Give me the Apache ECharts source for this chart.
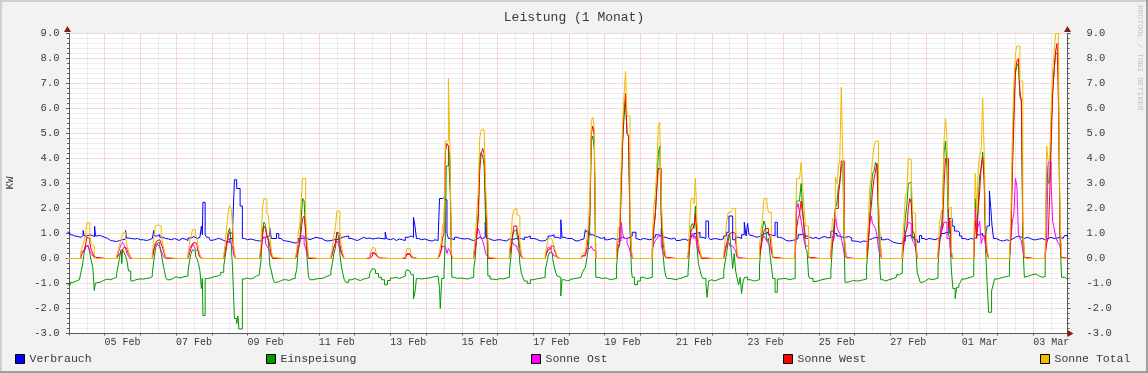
<!DOCTYPE html>
<html><head><meta charset="utf-8">
<script src="https://cdn.jsdelivr.net/npm/echarts@6.0.0/dist/echarts.min.js"></script>
<style>html,body{margin:0;padding:0;background:#F2F2F2;}#c{width:1148px;height:373px;}</style>
</head><body><div id="c"></div>
<script>
// ---------------- DATA ----------------
// x unit: hours since 04 Feb 00:00 (graph starts at -1 = 03 Feb 23:00, ends at 671 = 03 Mar 23:00)
const tickLabels = ['05 Feb','07 Feb','09 Feb','11 Feb','13 Feb','15 Feb','17 Feb','19 Feb','21 Feb','23 Feb','25 Feb','27 Feb','01 Mar','03 Mar'];
const yTicks = [-3,-2,-1,0,1,2,3,4,5,6,7,8,9];
const seriesNames = ['Verbrauch','Einspeisung','Sonne Ost','Sonne West','Sonne Total'];

// Verbrauch: per day, change points [hour of day, kW]
const verbrauch = [
 [[-1,1.05],[0.5,0.95],[2,0.9],[4,0.88],[6,0.85],[8,0.92],[9.5,1.12],[10.2,0.9],[12,0.95],[14,0.88],[17.2,1.3],[17.8,0.9],[19,0.92],[21,0.85]],
 [[0,0.8],[2,0.72],[4,0.7],[6,0.68],[8,0.72],[10,0.75],[12,0.78],[14,1.12],[14.6,0.82],[16,0.8],[18,0.78],[20,0.8],[22,0.75]],
 [[0,0.75],[2,0.72],[4,0.75],[6,0.8],[8,0.85],[9,1.12],[9.5,0.9],[11,0.95],[13,0.85],[15,0.8],[17,0.78],[19,0.75],[21,0.8],[23,0.72]],
 [[0,0.72],[2,0.8],[4,0.78],[6,0.72],[8,0.82],[10,0.88],[12,0.8],[14,0.85],[16,0.9],[17,1.3],[17.6,0.95],[18,2.25],[19.5,0.95],[20.5,0.85],[22,0.8],[23,0.72]],
 [[0,0.75],[2,0.8],[4,0.78],[6,0.72],[8,0.68],[10,0.65],[12,0.8],[14,1.3],[15.2,3.15],[16.7,2.8],[19,2.1],[20.5,0.8],[22,0.75]],
 [[0,0.78],[2,0.75],[4,0.72],[6,0.7],[8,0.72],[10,0.85],[12,0.9],[14.8,1.25],[16,0.8],[19.5,1.0],[21,0.8],[22.5,0.72]],
 [[0,0.7],[2,0.68],[4,0.65],[6,0.62],[8,0.65],[10,0.8],[12,0.82],[14,0.8],[16,0.75],[18,0.8],[20,0.85],[22,0.82]],
 [[0,0.8],[2,0.72],[4,0.7],[6,0.72],[8,0.75],[10,0.75],[12,0.8],[14,0.85],[16,0.88],[18,0.9],[20,0.8],[22,0.75]],
 [[0,0.72],[2,0.78],[4,0.85],[6,0.8],[8,0.82],[10,0.78],[12,0.8],[14,0.82],[16,0.78],[20.5,1.05],[21.3,0.8],[22,0.75]],
 [[0,0.8],[2,0.72],[4,0.78],[6,0.75],[8,0.72],[10,0.85],[12,0.9],[14,0.85],[15.5,1.65],[16.5,1.3],[17.5,0.8],[19,0.75],[21,0.78],[23,0.72]],
 [[0,0.72],[2,0.7],[4,0.75],[6,0.72],[8,0.75],[9,2.4],[11,2.45],[12.5,2.35],[14,1.0],[15,0.8],[17,0.75],[19,0.85],[21,0.8],[23,0.75]],
 [[0,0.78],[2,0.8],[4,0.75],[6,0.72],[8,0.78],[10,0.85],[12,0.8],[14,0.85],[15.7,1.45],[16.6,0.8],[18,0.75],[20,0.72],[22,0.75]],
 [[0,0.75],[2,0.72],[4,0.7],[6,0.78],[8,0.75],[10,0.8],[12,0.78],[14,0.8],[16,0.75],[18,0.85],[20,0.9],[22,0.8]],
 [[0,0.78],[2,0.72],[4,0.7],[6,0.72],[8,0.8],[10,0.9],[12,0.95],[14,0.85],[16,0.8],[18.5,1.55],[19.3,0.85],[21,0.8],[23,0.75]],
 [[0,0.8],[2,0.72],[4,0.7],[6,0.75],[8,0.78],[10,0.85],[11,1.15],[12,1.05],[14,0.95],[16,0.9],[18,0.85],[20,0.8],[22,0.85]],
 [[0,0.75],[2,0.78],[4,0.8],[6,0.75],[8,0.8],[10,0.85],[12,0.8],[14,0.82],[16,0.9],[18.5,1.05],[21,0.8],[22,0.75]],
 [[0,0.8],[2,0.78],[4,0.75],[6,0.78],[8,0.85],[10,0.95],[12,0.9],[14,1.2],[15,0.85],[17,0.8],[19,0.78],[21,0.82],[23,0.75]],
 [[0,0.72],[2,0.75],[4,0.78],[6,0.72],[8,0.8],[10,0.9],[12,1.0],[14,1.05],[16,0.85],[18,0.8],[20,1.5],[21.8,0.85],[23,0.75]],
 [[0,0.8],[2,0.78],[4,0.75],[6,0.8],[8,0.9],[10,1.05],[11.5,1.7],[14,0.75],[16,0.85],[18,0.8],[20,0.95],[21.8,1.45],[23,0.9]],
 [[0,1.4],[1,0.95],[2,0.9],[4,0.85],[6,0.88],[8,0.95],[10,1.0],[12,1.05],[14,0.95],[16,0.9],[18.5,1.45],[20,0.85],[22,0.8]],
 [[0,0.72],[2,0.7],[4,0.72],[6,0.75],[8,0.8],[10,0.95],[12,1.0],[14,0.9],[16,0.85],[18,0.8],[20,0.85],[22,0.78]],
 [[0,0.85],[2,0.88],[4,0.82],[6,0.85],[8,1.1],[10,1.0],[12,0.9],[14,0.85],[16,0.85],[18,0.88],[20,0.82],[22,0.7]],
 [[0,0.68],[2,0.65],[4,0.7],[6,0.68],[8,0.75],[10,0.8],[12,0.85],[14,0.82],[16,0.85],[18,0.75],[20,0.78],[22,0.72]],
 [[0,0.65],[2,0.62],[4,0.6],[6,0.6],[8,0.7],[10,0.9],[12,0.95],[14,0.85],[16,0.75],[18,0.65],[19.5,0.92],[21,0.8],[22.5,0.75]],
 [[0,0.8],[2,0.78],[4,0.75],[6,0.8],[8,0.85],[10,1.0],[12,1.05],[14,1.0],[15.5,1.6],[17.5,1.3],[19,1.1],[21,1.05],[22.5,0.9]],
 [[0,0.8],[2,0.75],[4,0.8],[6,0.78],[8,0.85],[10,0.95],[12,1.0],[14,0.9],[16,0.85],[17,1.3],[18.5,2.7],[19.4,2.05],[20.3,1.3],[21.3,0.8],[23,0.75]],
 [[0,0.72],[2,0.7],[4,0.75],[6,0.72],[8,0.78],[10,0.85],[12,0.9],[14,0.85],[16,0.8],[18,0.85],[20,0.8],[22,0.75]],
 [[0,0.75],[2,0.78],[4,0.8],[6,0.75],[8,0.8],[10,0.85],[12,0.8],[14,0.82],[16,0.85],[18,0.8],[20,0.78],[21,0.92],[23,0.85]]
];

// Einspeisung: per day, change points [hour of day, kW]
const einspeisung = [
 [[-1,-1.05],[1,-0.95],[3,-0.9],[5,-0.85],[7,-0.8],[8,-0.55],[9,-0.3],[10,0.15],[11,0.5],[12,0.52],[13,0.45],[14,0.2],[15,-0.1],[16,-0.35],[17,-1.28],[17.8,-0.98],[19,-0.95],[21,-0.88],[23,-0.8]],
 [[0,-0.82],[2,-0.85],[4,-0.8],[6,-0.75],[8,-0.6],[9,-0.3],[10,0.05],[11,0.35],[11.5,-0.2],[12,0.35],[13,0.25],[14,0.1],[15,-0.1],[16,-0.5],[17.5,-0.9],[19,-0.85],[21,-0.82],[23,-0.8]],
 [[0,-0.82],[2,-0.8],[4,-0.78],[6,-0.72],[8,-0.6],[9,-0.1],[10,0.35],[11,0.6],[12,0.65],[13,0.5],[14,0.2],[15,-0.15],[16,-0.45],[17,-0.75],[18,-0.85],[20,-0.8],[22,-0.72]],
 [[0,-0.78],[2,-0.75],[4,-0.72],[6,-0.7],[8,-0.5],[9,-0.1],[10,0.2],[11,0.35],[12,0.3],[13,0.1],[14,0.0],[15,-0.2],[16,-0.5],[17,-1.2],[17.6,-0.8],[18,-2.28],[19.5,-0.8],[21,-0.78],[23,-0.7]],
 [[0,-0.72],[2,-0.7],[4,-0.65],[6,-0.55],[8,-0.3],[9,0.1],[10,0.5],[11,1.05],[12,1.2],[13,0.6],[14,-0.5],[15.2,-2.4],[16.7,-2.6],[17.5,-2.3],[18.2,-2.82],[20.5,-0.82],[22,-0.78]],
 [[0,-0.82],[2,-0.78],[4,-0.7],[6,-0.65],[8,-0.55],[9,-0.1],[10,1.1],[11,1.45],[12,1.35],[13,0.9],[14,0.7],[15,-0.3],[16,-0.5],[17,-0.8],[18,-0.95],[20,-0.9],[22,-0.85]],
 [[0,-0.85],[2,-0.88],[4,-0.82],[6,-0.8],[8,-0.7],[9,-0.45],[10,0.3],[11,0.6],[12,1.55],[13,2.4],[14,2.3],[15,1.05],[16,0.0],[17,-0.75],[18,-0.85],[20,-0.82],[22,-0.8]],
 [[0,-0.8],[2,-0.75],[4,-0.7],[6,-0.65],[8,-0.5],[9,-0.2],[10,0.2],[11,0.4],[12,1.05],[13,0.9],[14,0.2],[15,-0.3],[16,-0.6],[17,-0.85],[18,-0.95],[20,-0.85],[22,-0.8]],
 [[0,-0.85],[2,-0.88],[4,-0.82],[6,-0.8],[8,-0.75],[10,-0.6],[11,-0.5],[12,-0.4],[13,-0.45],[14,-0.6],[16,-0.75],[18,-0.85],[20,-1.05],[22,-0.88]],
 [[0,-0.78],[2,-0.75],[4,-0.8],[6,-0.75],[8,-0.7],[10,-0.55],[11,-0.45],[12,-0.5],[13,-0.55],[14,-0.65],[15.5,-1.62],[16.5,-1.35],[17.5,-0.8],[19,-0.82],[21,-0.8],[23,-0.78]],
 [[0,-0.78],[2,-0.75],[4,-0.72],[6,-0.7],[8,-0.75],[9,-1.2],[9.5,-2.0],[10.5,-0.8],[12,-0.6],[13,1.0],[13.5,3.7],[15,4.4],[16.2,2.6],[17.3,-0.75],[19,-0.8],[21,-0.78],[23,-0.75]],
 [[0,-0.8],[2,-0.82],[4,-0.78],[6,-0.75],[8,-0.4],[9,0.0],[10,1.0],[11,1.8],[12,4.0],[13,4.25],[14,4.1],[15,3.7],[16,1.4],[17,0.8],[17.5,-0.7],[19,-0.82],[21,-0.85],[23,-0.8]],
 [[0,-0.8],[2,-0.82],[4,-0.78],[6,-0.75],[8,-0.5],[9,0.1],[10,0.85],[11,1.1],[12,1.15],[13,0.95],[14,0.7],[15,-0.2],[16,-0.6],[17,-0.75],[18,-0.9],[20,-1.0],[22,-0.85]],
 [[0,-0.82],[2,-0.8],[4,-0.78],[6,-0.75],[8,-0.5],[9,-0.2],[10,0.1],[11,0.25],[12,0.2],[13,0.0],[14,-0.3],[15,-0.55],[16,-0.7],[17,-0.75],[18.5,-1.5],[19.3,-0.85],[21,-0.9],[23,-0.82]],
 [[0,-0.82],[2,-0.8],[4,-0.78],[6,-0.75],[8,-0.7],[9,-0.55],[10,-0.45],[11,-0.35],[12,0.0],[13,0.4],[14,1.3],[15,4.7],[16,4.9],[17,4.4],[18,-0.75],[20,-0.8],[22,-0.78]],
 [[0,-0.8],[2,-0.85],[4,-0.82],[6,-0.8],[8,-0.3],[9,0.4],[10,0.5],[11,2.65],[12,4.5],[13,5.7],[14,6.3],[15,5.0],[16,4.9],[17,1.1],[18,-0.5],[18.5,-0.75],[20,-1.05],[22,-0.9]],
 [[0,-0.75],[2,-0.8],[4,-0.78],[6,-0.75],[8,0.0],[9,1.2],[10,1.85],[11,2.8],[12,4.2],[13,4.5],[14,1.5],[15,0.3],[16,-0.35],[17,-0.7],[18,-0.8],[20,-0.82],[22,-0.85]],
 [[0,-0.8],[2,-0.78],[4,-0.72],[6,-0.7],[8,-0.55],[9,0.35],[10,1.3],[11,1.4],[12,1.2],[13,2.1],[14,0.5],[15,-0.2],[16,-0.45],[17,-0.7],[18,-0.8],[20,-1.0],[20.8,-1.55],[21.8,-0.9],[23,-0.85]],
 [[0,-0.9],[2,-0.85],[4,-0.8],[6,-0.78],[8,-0.5],[9,-0.1],[10,0.25],[11,0.7],[12,1.0],[13,0.3],[14,-0.4],[15,0.2],[16,-0.5],[17,-0.8],[18,-1.05],[19,-0.75],[20,-1.4],[21,-0.9],[22,-0.75]],
 [[0,-0.85],[2,-0.9],[4,-0.88],[6,-0.85],[8,-0.3],[9,0.5],[10,1.2],[11,1.5],[12,1.3],[13,0.7],[14,0.8],[15,0.2],[16,-0.3],[17,-0.8],[18.5,-1.35],[20,-0.82],[22,-0.8]],
 [[0,-0.8],[2,-0.85],[4,-0.82],[6,-0.8],[8,0.0],[9,2.3],[10,2.3],[11,2.4],[12,3.0],[13,2.0],[14,1.1],[15,0.4],[16,0.3],[17,-0.7],[18,-0.8],[20,-0.92],[22,-0.88]],
 [[0,-0.85],[2,-0.82],[4,-0.8],[6,-0.78],[8,-0.5],[9,0.5],[10,1.3],[11,2.0],[12,2.2],[13,2.8],[14,3.1],[15,3.6],[16,3.85],[17,0.3],[17.5,-0.95],[19,-0.92],[21,-0.88],[23,-0.8]],
 [[0,-0.9],[2,-0.88],[4,-0.85],[6,-0.82],[8,-0.3],[9,0.4],[10,1.5],[11,2.7],[12,3.4],[13,3.5],[14,3.85],[15,3.7],[16,1.3],[17,-0.5],[17.5,-0.85],[19,-0.9],[21,-0.85],[23,-0.82]],
 [[0,-0.8],[2,-0.75],[4,-0.65],[6,-0.58],[8,-0.2],[9,0.7],[10,1.6],[11,2.1],[12,3.0],[13,3.05],[14,2.6],[15,0.8],[16,0.9],[17,0.5],[18,-0.55],[19,-0.75],[20,-0.95],[22,-0.88]],
 [[0,-0.8],[2,-0.85],[4,-0.82],[6,-0.78],[8,-0.3],[9,0.6],[10,1.0],[11,1.9],[12,4.25],[13,4.7],[14,3.6],[15,1.0],[16,0.7],[17,-0.5],[18,-1.2],[19.5,-1.6],[20.5,-1.15],[22,-1.05],[23,-0.95]],
 [[0,-0.82],[2,-0.78],[4,-0.75],[6,-0.7],[8,-0.2],[9,2.4],[10,0.9],[11,2.2],[12,3.3],[13,3.6],[14,4.25],[15,3.05],[16,0.3],[17,-1.0],[18,-2.15],[20,-1.3],[21,-1.05],[22,-0.82]],
 [[0,-0.78],[2,-0.75],[4,-0.72],[6,-0.7],[8,-0.3],[9,1.0],[10,4.2],[11,6.2],[12,7.4],[13,7.7],[14,7.8],[15,6.5],[16,6.3],[17,0.6],[18,-0.75],[19,-0.7],[21,-0.65],[23,-0.6]],
 [[0,-0.62],[2,-0.7],[4,-0.75],[6,-0.72],[8,-0.3],[9,3.7],[10,3.0],[11,3.1],[12,5.2],[13,6.7],[14,7.5],[15,8.2],[16,8.2],[17,6.4],[18,0.8],[19,-0.75],[21,-0.8],[22.5,-0.85]]
];

// Solar series: per day, hourly kW values starting at 08:00 (0 outside)
const solarStartHour = 8;
const sonneOst = [
 [0.2,0.3,0.35,0.45,0.5,0.45,0.3,0.2,0.1,0.05],
 [0.05,0.2,0.4,0.55,0.65,0.55,0.4,0.2,0.1,0],
 [0.1,0.4,0.55,0.55,0.5,0.45,0.3,0.15,0.05,0],
 [0.15,0.4,0.5,0.6,0.5,0.35,0.3,0.15,0.05,0],
 [0.05,0.3,0.6,0.8,0.7,0.6,0.4,0.1,0,0],
 [0,0.3,0.8,0.85,0.6,0.5,0.4,0.3,0.1,0],
 [0.05,0.2,0.6,0.7,0.9,0.9,0.6,0.4,0.2,0],
 [0.05,0.2,0.45,0.6,0.7,0.6,0.4,0.2,0.1,0],
 [0,0.03,0.1,0.2,0.25,0.2,0.15,0.07,0.03,0],
 [0,0.05,0.1,0.2,0.2,0.15,0.08,0.03,0,0],
 [0.05,0.2,0.3,0.5,0.45,0.4,0.2,0.4,0.3,0.1],
 [0.15,0.4,0.9,1.2,1.0,0.8,0.7,0.5,0.2,0.1,0],
 [0.2,0.5,0.65,0.55,0.5,0.4,0.3,0.2,0.05,0],
 [0.08,0.3,0.45,0.4,0.3,0.2,0.1,0.1,0.05,0],
 [0.05,0.1,0.1,0.1,0.4,0.4,0.45,0.5,0.35,0.3],
 [0.4,0.7,0.7,1.45,1.0,0.8,0.8,0.6,0.5,0.3,0.1],
 [0.4,0.6,0.7,0.8,0.9,0.9,0.5,0.3,0.15,0.03],
 [0.1,0.6,0.9,1.0,0.8,0.9,0.5,0.3,0.15,0.05],
 [0.1,0.4,0.6,0.6,0.5,0.5,0.45,0.4,0.3,0.05],
 [0.2,0.5,0.8,0.9,0.8,0.7,0.6,0.5,0.3,0.05],
 [0.5,2.0,2.2,1.8,1.5,1.1,0.7,0.5,0.5,0.05],
 [0.2,0.9,0.8,1.8,1.25,1.1,1.0,0.8,0.5,0.2,0.05],
 [0.3,0.8,1.3,1.7,1.4,1.3,1.2,0.9,0.4,0.2],
 [0.3,0.8,1.0,1.2,1.45,1.4,0.9,0.7,0.6,0.4],
 [0.2,0.6,1.3,1.2,1.45,1.45,0.8,0.8,0.5,0.1],
 [0.2,2.0,1.1,1.3,1.5,0.6,0.8,0.9,0.5,0.2],
 [0.1,0.8,1.5,1.8,3.2,2.9,1.0,0.8,0.7,0.3,0.05],
 [0.2,0.9,3.85,3.85,3.0,1.5,1.2,0.9,0.7,0.6,0.5,0.05]
];
const sonneWest = [
 [0.1,0.2,0.3,0.5,0.85,0.8,0.6,0.35,0.2,0.05],
 [0.03,0.1,0.2,0.25,0.35,0.45,0.4,0.3,0.2,0.1],
 [0.05,0.3,0.6,0.7,0.75,0.75,0.6,0.4,0.2,0.02],
 [0.05,0.2,0.4,0.55,0.65,0.6,0.5,0.25,0.1,0],
 [0.05,0.3,0.6,0.9,1.05,1.0,0.7,0.2,0,0],
 [0,0.3,0.9,1.3,1.2,0.9,0.8,0.5,0.15,0],
 [0,0.1,0.4,0.6,1.1,1.6,1.7,1.1,0.4,0],
 [0.05,0.2,0.45,0.6,1.05,1.0,0.55,0.3,0.1,0],
 [0,0.02,0.05,0.1,0.2,0.2,0.15,0.08,0.02,0],
 [0,0,0.05,0.15,0.18,0.15,0.05,0.02,0,0],
 [0,0.1,0.3,0.8,1.0,4.3,4.6,4.5,4.0,0.1],
 [0.1,0.3,0.9,1.6,3.5,4.2,4.4,4.2,2.3,1.0,0],
 [0.1,0.4,0.9,1.3,1.3,1.1,0.9,0.4,0.1,0],
 [0.02,0.2,0.35,0.4,0.5,0.5,0.35,0.2,0.05,0],
 [0,0.1,0.15,0.2,0.4,0.9,1.85,5.0,5.3,4.9],
 [0.1,0.5,0.6,2.8,4.7,5.9,6.6,5.0,4.9,1.5,0.2],
 [0.3,1.2,1.7,2.8,3.6,3.6,1.8,0.8,0.3,0.05],
 [0.05,0.5,1.1,1.2,1.3,1.8,0.9,0.4,0.2,0],
 [0.05,0.3,0.6,0.9,1.0,1.05,1.1,1.0,0.7,0.1],
 [0.1,0.4,0.8,1.1,1.2,1.2,1.0,0.9,0.4,0.05],
 [0.2,1.2,1.6,1.8,2.3,1.8,1.3,0.8,0.8,0.05],
 [0.1,0.6,0.8,2.0,2.0,2.5,3.0,3.9,3.9,0.8,0.2],
 [0.1,0.5,1.5,2.0,2.7,3.2,3.5,3.8,2.0,0.7],
 [0.2,0.5,1.0,1.2,2.0,2.4,2.2,1.1,1.0,0.6],
 [0.1,0.8,1.0,1.2,2.9,4.0,4.0,1.2,1.5,0.2],
 [0.1,1.5,0.8,2.0,2.7,3.7,4.05,3.3,0.8,0.2],
 [0.1,1.0,3.5,5.5,7.5,7.9,8.0,6.7,6.3,1.2,0.05],
 [0.1,0.6,0.8,2.5,4.5,6.5,7.5,8.3,8.6,6.0,1.0,0.05]
];
const sonneTotal = [
 [0.3,0.5,0.65,0.9,1.43,1.43,0.95,0.55,0.5,0.15],
 [0.1,0.3,0.6,0.7,1.0,1.05,0.85,0.5,0.3,0.1],
 [0.2,0.8,1.3,1.35,1.35,1.3,1.0,0.6,0.3,0.05],
 [0.2,0.6,0.9,1.15,1.15,0.95,0.8,0.4,0.15,0],
 [0.1,0.65,1.3,1.85,2.12,2.0,1.2,0.3,0,0],
 [0,0.6,2.0,2.4,2.35,1.8,1.7,1.0,0.3,0.05],
 [0.05,0.3,1.0,1.3,2.3,3.2,3.2,1.85,0.7,0.05],
 [0.1,0.4,0.9,1.2,1.9,1.9,1.0,0.5,0.2,0],
 [0,0.05,0.15,0.3,0.45,0.4,0.3,0.15,0.05,0],
 [0,0.05,0.15,0.4,0.4,0.35,0.15,0.05,0,0],
 [0.05,0.3,0.6,1.3,1.45,4.7,4.7,7.2,4.3,0.2],
 [0.3,0.8,1.8,2.65,4.8,5.15,5.15,5.1,2.8,1.6,0.05],
 [0.3,0.9,1.7,1.95,2.0,1.75,1.7,0.65,0.15,0],
 [0.1,0.5,0.8,0.8,0.8,0.7,0.45,0.3,0.1,0],
 [0.05,0.2,0.25,0.3,0.8,1.3,2.3,5.5,5.65,5.2],
 [0.5,1.2,1.3,3.6,5.3,6.5,7.5,5.7,5.7,1.85,0.3],
 [0.8,2.05,2.6,3.6,5.3,5.45,2.4,1.1,0.5,0.1],
 [0.2,1.3,2.4,2.4,2.2,3.2,1.5,0.7,0.35,0.05],
 [0.2,0.8,1.5,1.85,1.85,1.9,2.0,2.0,1.3,0.2],
 [0.5,1.1,1.6,2.4,2.4,2.2,1.85,1.85,0.8,0.1],
 [0.8,3.2,3.2,3.2,3.85,2.9,2.0,1.3,1.3,0.1],
 [0.3,1.6,1.6,3.25,3.0,3.6,4.0,6.85,4.0,1.0,0.25],
 [0.4,1.3,2.8,3.25,4.0,4.5,4.7,4.7,2.3,0.9],
 [0.6,1.4,2.5,2.6,4.0,3.95,3.2,1.85,1.8,1.0],
 [0.3,1.45,1.8,2.0,4.7,5.6,4.8,2.0,2.05,0.3],
 [0.3,3.4,1.9,3.6,4.1,4.35,6.4,4.25,1.3,0.4],
 [0.2,1.85,5.05,7.05,8.2,8.5,8.5,7.1,7.1,1.5,0.1],
 [0.3,4.5,3.9,4.0,6.0,7.5,8.2,9.0,9.0,7.25,1.65,0.1]
];

// ---------------- BUILD ----------------
const X_MIN = -1, X_MAX = 671;
function stepPoints(days) {
  const out = [];
  days.forEach((pts, d) => pts.forEach(p => out.push([d * 24 + p[0], p[1]])));
  out.push([X_MAX, out[out.length - 1][1]]);
  return out;
}
function solarPoints(days) {
  const out = [[X_MIN, 0]];
  days.forEach((vals, d) => {
    out.push([d * 24, 0]);
    vals.forEach((v, i) => out.push([d * 24 + solarStartHour + i, v]));
    out.push([d * 24 + solarStartHour + vals.length, 0]);
  });
  out.push([X_MAX, 0]);
  return out;
}
const seriesData = [stepPoints(verbrauch), stepPoints(einspeisung), solarPoints(sonneOst), solarPoints(sonneWest), solarPoints(sonneTotal)];
const colors = ['#0000FF', '#009A00', '#FF00FF', '#FF0000', '#F0BC00'];

const MONO = "'Liberation Mono','DejaVu Sans Mono',monospace";
const TXT = '#3a3a3a';
const L = 67.5, T = 33.5, W = 1000, H = 300;
const P = W / (X_MAX - X_MIN);
const AX = '#5a5a5a';
const MGRID = '#EDB2B2', GRID = '#DCDCDC';

const option = {
  animation: false,
  backgroundColor: '#F2F2F2',
  title: { text: 'Leistung (1 Monat)', left: 'center', top: 6, textStyle: { fontFamily: MONO, fontSize: 13, fontWeight: 'normal', color: TXT } },
  grid: [
    { left: L, top: T, width: W, height: H, show: true, backgroundColor: '#FFFFFF', borderWidth: 0, z: -5 },
    { left: L + P * 1, top: T, width: P * 671, height: H },
    { left: L + P * 13, top: T, width: P * 659, height: H },
    { left: L + P * 37, top: T, width: P * 635, height: H }
  ],
  xAxis: [
    { gridIndex: 0, type: 'value', min: X_MIN, max: X_MAX, axisLine: { show: true, onZero: false, lineStyle: { color: AX } }, axisTick: { show: false }, axisLabel: { show: false }, splitLine: { show: false } },
    { gridIndex: 1, type: 'value', min: 0, max: 671, interval: 24, axisLine: { show: false, onZero: false }, axisTick: { show: true, length: 2, lineStyle: { color: AX } }, axisLabel: { show: false }, splitLine: { show: true, lineStyle: { color: MGRID, width: 1, type: [1, 1] } } },
    { gridIndex: 2, type: 'value', min: 0, max: 659, interval: 24, axisLine: { show: false, onZero: false }, axisTick: { show: false }, axisLabel: { show: false }, splitLine: { show: true, lineStyle: { color: GRID, width: 1, type: [1, 1] } } },
    { gridIndex: 3, type: 'value', min: 0, max: 635, interval: 48, axisLine: { show: false, onZero: false }, axisTick: { show: false }, splitLine: { show: false },
      axisLabel: { show: true, margin: 4, fontFamily: MONO, fontSize: 10, color: TXT,
        formatter: v => (v % 48 === 0 && tickLabels[v / 48]) ? tickLabels[v / 48] : '' } }
  ],
  yAxis: [
    { gridIndex: 0, type: 'value', position: 'left', min: yTicks[0], max: yTicks[yTicks.length - 1], interval: 1,
      axisLine: { show: true, lineStyle: { color: AX } }, axisTick: { show: true, length: 3, lineStyle: { color: AX } },
      minorTick: { show: true, splitNumber: 5, length: 2, lineStyle: { color: AX } },
      axisLabel: { margin: 8, fontFamily: MONO, fontSize: 10.5, color: TXT, formatter: v => v.toFixed(1) },
      splitLine: { show: true, lineStyle: { color: MGRID, width: 1, type: [1, 1] } },
      minorSplitLine: { show: true, lineStyle: { color: GRID, width: 1, type: [1, 1] } } },
    { gridIndex: 0, type: 'value', position: 'right', min: yTicks[0], max: yTicks[yTicks.length - 1], interval: 1,
      axisLine: { show: true, lineStyle: { color: AX } }, axisTick: { show: true, length: 3, lineStyle: { color: AX } },
      minorTick: { show: true, splitNumber: 5, length: 2, lineStyle: { color: AX } },
      axisLabel: { margin: 19, fontFamily: MONO, fontSize: 10.5, color: TXT, formatter: v => v.toFixed(1) },
      splitLine: { show: false } },
    { gridIndex: 1, type: 'value', show: false, min: 0, max: 1 },
    { gridIndex: 2, type: 'value', show: false, min: 0, max: 1 },
    { gridIndex: 3, type: 'value', show: false, min: 0, max: 1 }
  ],
  legend: seriesNames.map((n, i) => ({
    data: [n], left: [15, 266, 531, 783, 1040][i], top: 353, padding: 0, itemGap: 0,
    icon: 'rect', itemWidth: 9, itemHeight: 9, selectedMode: false,
    itemStyle: { borderColor: '#000', borderWidth: 1 },
    textStyle: { fontFamily: MONO, fontSize: 11.5, color: TXT }
  })),
  series: seriesNames.map((n, i) => ({
    name: n, type: 'line', xAxisIndex: 0, yAxisIndex: 0, step: 'end',
    data: seriesData[i], showSymbol: false, symbol: 'none', silent: true,
    lineStyle: { width: 1, color: colors[i] }, itemStyle: { color: colors[i] }, z: 2 + i
  })),
  graphic: [
    { type: 'rect', shape: { x: 0, y: 0, width: 1148, height: 2 }, style: { fill: '#CFCFCF' }, silent: true },
    { type: 'rect', shape: { x: 0, y: 0, width: 2, height: 373 }, style: { fill: '#CFCFCF' }, silent: true },
    { type: 'rect', shape: { x: 0, y: 371, width: 1148, height: 2 }, style: { fill: '#9E9E9E' }, silent: true },
    { type: 'rect', shape: { x: 1146, y: 0, width: 2, height: 373 }, style: { fill: '#9E9E9E' }, silent: true },
    { type: 'polygon', shape: { points: [[L - 3.5, T - 1.5], [L + 3.5, T - 1.5], [L, T - 7.5]] }, style: { fill: '#7F1F1F' }, silent: true, z: 10 },
    { type: 'polygon', shape: { points: [[L + W - 3.5, T - 1.5], [L + W + 3.5, T - 1.5], [L + W, T - 7.5]] }, style: { fill: '#7F1F1F' }, silent: true, z: 10 },
    { type: 'polygon', shape: { points: [[L + W, T + H - 3.5], [L + W, T + H + 3.5], [L + W + 6, T + H]] }, style: { fill: '#7F1F1F' }, silent: true, z: 10 },
    { type: 'text', x: 10, y: 183, rotation: Math.PI / 2, style: { text: 'KW', fontFamily: MONO, fontSize: 11, fill: TXT, align: 'center', verticalAlign: 'middle' }, silent: true },
    { type: 'text', x: 1140, y: 5, rotation: -Math.PI / 2, style: { text: 'RRDTOOL / TOBI OETIKER', fontFamily: MONO, fontSize: 8, fill: '#C4C4C4', align: 'left', verticalAlign: 'middle' }, silent: true }
  ]
};
const chart = echarts.init(document.getElementById('c'), null, { renderer: 'canvas', width: 1148, height: 373 });
chart.setOption(option);
</script></body></html>
